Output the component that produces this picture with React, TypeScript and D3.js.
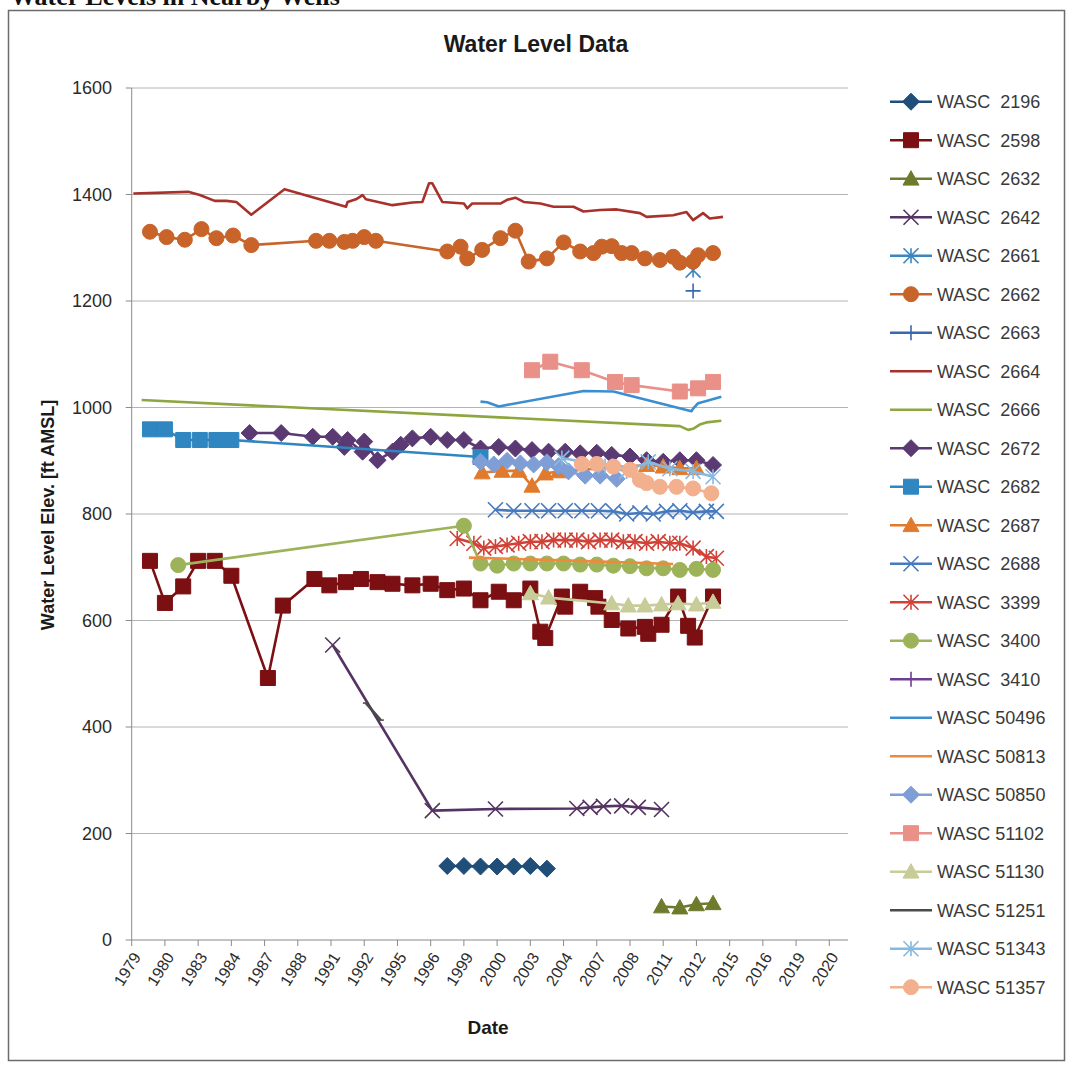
import React from 'react'
import * as d3 from 'd3'

// tick labels as printed on the scanned chart (equally spaced ticks)
const xTickLabels = ['1979', '1980', '1983', '1984', '1987', '1988', '1991', '1992', '1995', '1996', '1999',
  '2000', '2003', '2004', '2007', '2008', '2011', '2012', '2015', '2016', '2019', '2020'];
const yTicks = [0, 200, 400, 600, 800, 1000, 1200, 1400, 1600];

// [decimal year, water level elevation ft AMSL]
const wasc2196 = [[1998.0, 139], [1999.0, 139], [2000.0, 138], [2001.0, 138], [2002.0, 138], [2003.0, 139], [2004.0, 134]];
const wasc2598 = [[1980.1, 712], [1981.0, 633], [1982.1, 664], [1983.0, 712], [1984.0, 712], [1985.0, 684], [1987.2, 492],
  [1988.1, 628], [1990.0, 678], [1990.9, 666], [1991.9, 672], [1992.8, 678], [1993.8, 672], [1994.7, 669], [1995.9, 666],
  [1997.0, 669], [1998.0, 657], [1999.0, 660], [2000.0, 638], [2001.1, 654], [2002.0, 638], [2003.0, 660], [2003.6, 579],
  [2003.9, 567], [2004.9, 645], [2005.1, 626], [2006.0, 654], [2006.9, 642], [2007.1, 626], [2007.9, 601], [2008.9, 585],
  [2009.9, 588], [2010.1, 575], [2010.9, 592], [2011.9, 645], [2012.5, 590], [2012.9, 568], [2014.0, 645]];
const wasc2632 = [[2010.9, 63], [2012.0, 61], [2013.0, 67], [2014.0, 69]];
const wasc2642 = [[1991.1, 554], [1997.1, 243], [2000.9, 246], [2005.8, 247], [2006.6, 249], [2007.4, 251], [2008.5, 252],
  [2009.5, 249], [2010.9, 245]];
const wasc2661 = [[2012.8, 1258]];
const wasc2662 = [[1980.1, 1330], [1981.1, 1320], [1982.2, 1315], [1983.2, 1335], [1984.1, 1318], [1985.1, 1323],
  [1986.2, 1305], [1990.1, 1313], [1990.9, 1313], [1991.8, 1311], [1992.3, 1313], [1993.0, 1320], [1993.7, 1313],
  [1998.0, 1293], [1998.8, 1302], [1999.2, 1280], [2000.1, 1296], [2001.2, 1318], [2002.1, 1332], [2002.9, 1274],
  [2004.0, 1280], [2005.0, 1310], [2006.0, 1293], [2006.8, 1290], [2007.3, 1302], [2007.9, 1303], [2008.5, 1290],
  [2009.1, 1290], [2009.9, 1280], [2010.8, 1277], [2011.6, 1283], [2012.0, 1272], [2012.8, 1274], [2013.1, 1286],
  [2014.0, 1290]];
const wasc2663 = [[2012.8, 1219]];
const wasc2664 = [[1979.1, 1402], [1982.4, 1405], [1983.1, 1399], [1984.0, 1388], [1984.7, 1388], [1985.3, 1386],
  [1985.6, 1378], [1986.2, 1362], [1988.2, 1410], [1991.9, 1377], [1992.0, 1386], [1992.5, 1391], [1992.9, 1399],
  [1993.1, 1391], [1994.7, 1380], [1995.9, 1385], [1996.5, 1386], [1996.9, 1421], [1997.1, 1421], [1997.7, 1386],
  [1999.0, 1383], [1999.2, 1374], [1999.5, 1383], [2001.2, 1383], [2001.6, 1390], [2002.1, 1394], [2002.6, 1386],
  [2003.6, 1383], [2004.4, 1377], [2005.6, 1377], [2006.2, 1368], [2007.2, 1371], [2008.2, 1372], [2009.6, 1365],
  [2010.0, 1358], [2011.6, 1361], [2012.4, 1367], [2012.8, 1352], [2013.4, 1365], [2013.8, 1355], [2014.6, 1358]];
const wasc2666 = [[1979.6, 1014], [2012.0, 965], [2012.5, 958], [2012.8, 960], [2013.2, 968], [2013.6, 972], [2014.5, 975]];
const wasc2672 = [[1986.1, 952], [1988.0, 952], [1989.9, 945], [1991.1, 945], [1991.8, 926], [1992.0, 939], [1992.9, 917],
  [1993.0, 936], [1993.8, 901], [1994.7, 917], [1995.2, 930], [1995.9, 942], [1997.0, 945], [1998.0, 939], [1999.0, 939],
  [2000.0, 923], [2001.1, 926], [2002.1, 923], [2003.1, 920], [2004.1, 917], [2005.1, 917], [2006.0, 914], [2007.0, 915],
  [2007.9, 911], [2009.0, 908], [2010.0, 901], [2011.0, 898], [2012.0, 901], [2013.0, 901], [2014.0, 892]];
const wasc2682 = [[1980.1, 959], [1981.0, 959], [1982.1, 939], [1983.1, 939], [1984.1, 939], [1985.0, 939], [2000.0, 907]];
const wasc2687 = [[2000.1, 878], [2001.3, 881], [2002.3, 881], [2003.1, 853], [2003.9, 876], [2004.7, 880], [2010.0, 892],
  [2011.0, 889], [2012.0, 886], [2013.0, 886]];
const wasc2688 = [[2000.9, 808], [2002.0, 806], [2003.1, 806], [2004.1, 806], [2005.1, 806], [2006.1, 806], [2007.1, 806],
  [2008.0, 805], [2008.8, 800], [2009.6, 802], [2010.4, 800], [2011.2, 805], [2012.0, 806], [2012.8, 803], [2013.6, 805],
  [2014.2, 805]];
const wasc3399 = [[1998.6, 754], [1999.6, 745], [2000.2, 736], [2000.9, 739], [2001.6, 742], [2002.3, 745], [2003.0, 748],
  [2003.7, 748], [2004.4, 751], [2005.1, 751], [2005.8, 751], [2006.5, 748], [2007.2, 751], [2007.9, 751], [2008.6, 748],
  [2009.3, 748], [2010.0, 745], [2010.7, 748], [2011.4, 745], [2012.0, 745], [2012.8, 736], [2013.6, 720], [2014.2, 717]];
const wasc3400 = [[1981.8, 704], [1999.0, 778], [2000.0, 707], [2001.0, 703], [2002.0, 707], [2003.0, 707], [2004.0, 707],
  [2005.0, 707], [2006.0, 705], [2007.0, 705], [2008.0, 703], [2009.0, 702], [2010.0, 698], [2011.0, 698], [2012.0, 695],
  [2013.0, 697], [2014.0, 695]];
const wasc3410: number[][] = [];
const wasc50496 = [[2000.0, 1011], [2000.4, 1010], [2001.1, 1002], [2006.2, 1031], [2008.0, 1030], [2012.7, 993],
  [2012.8, 998], [2013.1, 1008], [2013.6, 1012], [2014.5, 1020]];
const wasc50813 = [[1999.3, 718], [2005.0, 713], [2011.6, 706]];
const wasc50850 = [[2000.0, 898], [2000.8, 893], [2001.6, 900], [2002.4, 895], [2003.2, 893], [2004.0, 897], [2004.7, 890],
  [2005.3, 880], [2006.3, 872], [2007.2, 872], [2008.2, 866]];
const wasc51102 = [[2003.1, 1070], [2004.2, 1086], [2006.1, 1070], [2008.1, 1048], [2009.1, 1042], [2012.0, 1030],
  [2013.1, 1036], [2014.0, 1048]];
const wasc51130 = [[2003.0, 651], [2004.1, 643], [2007.9, 632], [2008.9, 628], [2009.9, 628], [2010.9, 630], [2011.9, 632],
  [2013.0, 630], [2014.0, 635]];
const wasc51251 = [[1993.1, 445], [1994.0, 413]];
const wasc51343 = [[2004.9, 905], [2007.5, 890], [2008.8, 880], [2010.1, 898], [2011.4, 885], [2012.8, 880], [2014.0, 870]];
const wasc51357 = [[2006.1, 894], [2007.0, 894], [2008.0, 889], [2009.0, 883], [2009.6, 864], [2010.0, 858], [2010.8, 851],
  [2011.8, 851], [2012.8, 848], [2013.9, 839]];

const series = [
  {name: 'WASC  2196', data: wasc2196, color: '#1F4E79', marker: 'diamond'},
  {name: 'WASC  2598', data: wasc2598, color: '#7B0F12', marker: 'square'},
  {name: 'WASC  2632', data: wasc2632, color: '#6E7B2C', marker: 'triangle'},
  {name: 'WASC  2642', data: wasc2642, color: '#553363', marker: 'x'},
  {name: 'WASC  2661', data: wasc2661, color: '#3A86C0', marker: 'star'},
  {name: 'WASC  2662', data: wasc2662, color: '#C8642A', marker: 'circle'},
  {name: 'WASC  2663', data: wasc2663, color: '#3A67B0', marker: 'plus'},
  {name: 'WASC  2664', data: wasc2664, color: '#A8322B', marker: 'none'},
  {name: 'WASC  2666', data: wasc2666, color: '#8EA640', marker: 'none'},
  {name: 'WASC  2672', data: wasc2672, color: '#5B3A73', marker: 'diamond'},
  {name: 'WASC  2682', data: wasc2682, color: '#2F86C0', marker: 'square'},
  {name: 'WASC  2687', data: wasc2687, color: '#E07B2E', marker: 'triangle'},
  {name: 'WASC  2688', data: wasc2688, color: '#4679BE', marker: 'x'},
  {name: 'WASC  3399', data: wasc3399, color: '#D04237', marker: 'star'},
  {name: 'WASC  3400', data: wasc3400, color: '#9CB35A', marker: 'circle'},
  {name: 'WASC  3410', data: wasc3410, color: '#6E3E91', marker: 'plus'},
  {name: 'WASC 50496', data: wasc50496, color: '#3B8FD0', marker: 'none'},
  {name: 'WASC 50813', data: wasc50813, color: '#EE8A3E', marker: 'none'},
  {name: 'WASC 50850', data: wasc50850, color: '#7F9ED6', marker: 'diamond'},
  {name: 'WASC 51102', data: wasc51102, color: '#E99089', marker: 'square'},
  {name: 'WASC 51130', data: wasc51130, color: '#C8CC98', marker: 'triangle'},
  {name: 'WASC 51251', data: wasc51251, color: '#4A4A4A', marker: 'dash'},
  {name: 'WASC 51343', data: wasc51343, color: '#86B9E0', marker: 'star'},
  {name: 'WASC 51357', data: wasc51357, color: '#F3B08F', marker: 'circle'},
];

const W = 1069, H = 1068;
const plot = {left: 131.7, right: 848, top: 88, bottom: 940};

const x = d3.scaleLinear().domain([1979, 2021]).range([131.7, 829.3]);
const y = d3.scaleLinear().domain([0, 1600]).range([plot.bottom, plot.top]);
const xTicks = xTickLabels.map((_, i) => 1979 + 2 * i);

const line = d3.line<number[]>().x(d => x(d[0])).y(d => y(d[1]));

function markerPath(type: string, s: number) {
  switch (type) {
    case 'square': return `M${-s},${-s}h${2 * s}v${2 * s}h${-2 * s}Z`;
    case 'diamond': return `M0,${-s}L${s},0L0,${s}L${-s},0Z`;
    case 'triangle': return `M0,${-s}L${s},${s * 0.8}L${-s},${s * 0.8}Z`;
    case 'circle': return d3.arc()({innerRadius: 0, outerRadius: s, startAngle: 0, endAngle: 2 * Math.PI} as any) as string;
    case 'x': return `M${-s},${-s}L${s},${s}M${-s},${s}L${s},${-s}`;
    case 'star': return `M${-s},${-s}L${s},${s}M${-s},${s}L${s},${-s}M0,${-s}L0,${s}`;
    case 'plus': return `M${-s},0L${s},0M0,${-s}L0,${s}`;
    case 'dash': return `M${-s * 0.5},0L${s * 0.5},0`;
    default: return '';
  }
}

const filled = (m: string) => m === 'square' || m === 'diamond' || m === 'triangle' || m === 'circle';
const markerSize: Record<string, number> = {square: 7.5, diamond: 8.5, triangle: 8, circle: 7.5, x: 7.5, star: 7.5, plus: 7.5, dash: 6};

const Marker = ({type, color, tx, ty}: {type: string, color: string, tx: number, ty: number}) => {
  if (type === 'none') return null;
  return (
    <path d={markerPath(type, markerSize[type])} transform={`translate(${tx},${ty})`}
          fill={filled(type) ? color : 'none'} stroke={color} strokeWidth={filled(type) ? 1 : 1.6}/>
  );
};

export default function App() {
  const font = 'Liberation Sans, Arial, sans-serif';
  return (
    <svg width={W} height={H} style={{position: 'absolute', left: 0, top: 0, background: '#fff'}}>
      <text x={10} y={5} fontFamily="Liberation Serif, serif" fontWeight="bold" fontSize={26} fill="#111">
        Water Levels in Nearby Wells
      </text>
      <rect x={8.5} y={10.5} width={1056} height={1050} fill="none" stroke="#6b6b6b" strokeWidth={1.5}/>

      <text x={536} y={52} textAnchor="middle" fontFamily={font} fontWeight="bold" fontSize={23} fill="#1a1a1a">
        Water Level Data
      </text>

      {/* gridlines */}
      <g>
        {yTicks.filter(t => t > 0).map(t => (
          <line key={t} x1={plot.left} x2={plot.right} y1={y(t)} y2={y(t)} stroke="#b4b4b4" strokeWidth={1}/>
        ))}
      </g>

      {/* axes */}
      <g fontFamily={font} fill="#2b2b2b">
        <line x1={plot.left} x2={plot.left} y1={plot.top} y2={plot.bottom} stroke="#8a8a8a"/>
        <line x1={plot.left} x2={plot.right} y1={plot.bottom} y2={plot.bottom} stroke="#8a8a8a"/>
        {yTicks.map(t => (
          <g key={t}>
            <line x1={plot.left - 6} x2={plot.left} y1={y(t)} y2={y(t)} stroke="#8a8a8a"/>
            <text x={112} y={y(t)} dy="0.35em" textAnchor="end" fontSize={18}>{t}</text>
          </g>
        ))}
        {xTicks.map((t, i) => (
          <g key={t}>
            <line x1={x(t)} x2={x(t)} y1={plot.bottom} y2={plot.bottom + 6} stroke="#8a8a8a"/>
            <text transform={`translate(${x(t) + 5},${plot.bottom + 14}) rotate(-58)`} textAnchor="end"
                  fontSize={16} dy="0.35em">{xTickLabels[i]}</text>
          </g>
        ))}
        <text transform="translate(48,515) rotate(-90)" textAnchor="middle" dy="0.35em" fontSize={18}
              fontWeight="bold" fill="#1a1a1a">Water Level Elev. [ft AMSL]</text>
        <text x={488} y={1034} textAnchor="middle" fontSize={19} fontWeight="bold" fill="#1a1a1a">Date</text>
      </g>

      {/* series */}
      {series.map(s => (
        <g key={s.name}>
          {s.data.length > 1 &&
            <path d={line(s.data) as string} fill="none" stroke={s.color} strokeWidth={2.6} strokeLinejoin="round"/>}
          {s.data.map((d, i) => <Marker key={i} type={s.marker} color={s.color} tx={x(d[0])} ty={y(d[1])}/>)}
        </g>
      ))}

      {/* legend */}
      <g fontFamily={font} fontSize={18} fill="#3a3a3a">
        {series.map((s, i) => {
          const ly = 101.7 + 38.5 * i;
          return (
            <g key={s.name}>
              <line x1={890} x2={932} y1={ly} y2={ly} stroke={s.color} strokeWidth={2.6}/>
              <Marker type={s.marker} color={s.color} tx={911} ty={ly}/>
              <text x={937} y={ly} dy="0.35em" style={{whiteSpace: 'pre'}}>{s.name}</text>
            </g>
          );
        })}
      </g>
    </svg>
  );
}
